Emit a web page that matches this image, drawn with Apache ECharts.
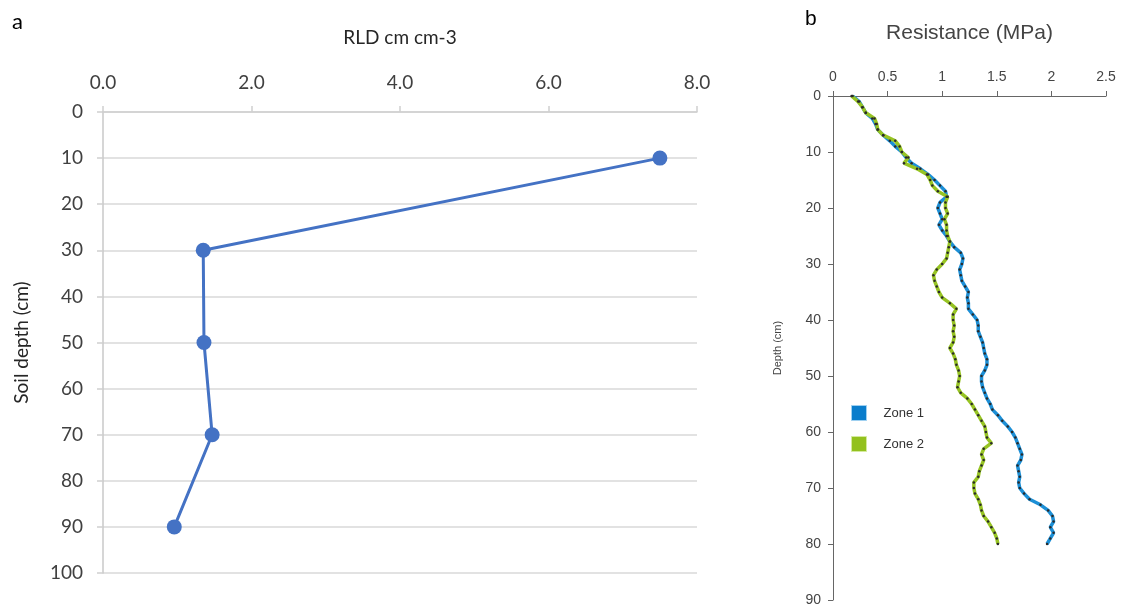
<!DOCTYPE html>
<html>
<head>
<meta charset="utf-8">
<script src="https://cdn.jsdelivr.net/npm/echarts@6/dist/echarts.min.js"></script>
<style>
  html, body { margin: 0; padding: 0; background: #fff; }
  #chart { width: 1123px; height: 607px; }
</style>
</head>
<body>
<div id="chart"></div>
<script>
// Panel a: root length density by soil depth
const rldDepth = [10, 30, 50, 70, 90];
const rldValue = [7.5, 1.35, 1.36, 1.47, 0.96];
const rldTicks = ['0.0', '2.0', '4.0', '6.0', '8.0'];

// Panel b: penetration resistance profiles (1 cm steps)
const resDepth = [];
for (let d = 0; d <= 80; d++) resDepth.push(d);
const zone1 = [
  0.18, 0.24, 0.27, 0.30, 0.36, 0.39, 0.41, 0.46, 0.52, 0.57,
  0.63, 0.67, 0.72, 0.80, 0.87, 0.93, 0.98, 1.03, 1.04, 0.98,
  0.96, 0.98, 1.00, 0.97, 1.00, 1.04, 1.07, 1.11, 1.17, 1.19,
  1.18, 1.16, 1.17, 1.18, 1.21, 1.24, 1.23, 1.24, 1.24, 1.28,
  1.32, 1.33, 1.33, 1.35, 1.37, 1.38, 1.39, 1.41, 1.41, 1.39,
  1.36, 1.36, 1.37, 1.39, 1.41, 1.44, 1.46, 1.51, 1.55, 1.60,
  1.64, 1.67, 1.69, 1.71, 1.73, 1.72, 1.69, 1.70, 1.71, 1.70,
  1.71, 1.75, 1.80, 1.90, 1.97, 2.01, 2.02, 1.99, 2.02, 1.99,
  1.96
];
const zone2 = [
  0.17, 0.23, 0.27, 0.30, 0.38, 0.40, 0.41, 0.46, 0.57, 0.61,
  0.63, 0.69, 0.65, 0.77, 0.86, 0.89, 0.91, 0.96, 1.05, 1.03,
  1.03, 1.05, 1.02, 1.04, 1.04, 1.05, 1.07, 1.06, 1.05, 1.04,
  1.00, 0.95, 0.92, 0.93, 0.95, 0.97, 1.00, 1.07, 1.13, 1.10,
  1.10, 1.11, 1.10, 1.11, 1.10, 1.07, 1.10, 1.12, 1.13, 1.15,
  1.16, 1.15, 1.14, 1.17, 1.23, 1.27, 1.30, 1.33, 1.36, 1.39,
  1.40, 1.41, 1.45, 1.38, 1.36, 1.38, 1.36, 1.34, 1.33, 1.29,
  1.29, 1.30, 1.33, 1.35, 1.36, 1.38, 1.42, 1.45, 1.48, 1.50,
  1.51
];

const fontA = 'Lato, "Open Sans", sans-serif';
const fontB = '"Liberation Sans", Arial, sans-serif';

const chart = echarts.init(document.getElementById('chart'), null, { renderer: 'canvas' });

chart.setOption({
  animation: false,
  backgroundColor: '#ffffff',
  grid: [
    { left: 103, top: 112, width: 594, height: 461 },
    { left: 833, top: 96, width: 273, height: 505 }
  ],
  xAxis: [
    {
      gridIndex: 0, type: 'value', position: 'top', min: 0, max: 8, interval: 2,
      name: 'RLD cm cm-3', nameLocation: 'middle', nameGap: 65,
      nameTextStyle: { fontFamily: fontA, fontSize: 19, color: '#262626' },
      axisLine: { show: true, lineStyle: { color: '#d0d0d0', width: 1.5 } },
      axisTick: { show: true, inside: false, length: 6, lineStyle: { color: '#d0d0d0', width: 1.5 } },
      axisLabel: {
        margin: 20, fontFamily: fontA, fontSize: 19, color: '#404040',
        formatter: v => rldTicks[Math.round(v / 2)]
      },
      splitLine: { show: false }
    },
    {
      gridIndex: 1, type: 'value', position: 'top', min: 0, max: 2.5, interval: 0.5,
      name: 'Resistance (MPa)', nameLocation: 'middle', nameGap: 52,
      nameTextStyle: { fontFamily: fontB, fontSize: 21, color: '#444' },
      axisLine: { show: true, lineStyle: { color: '#666', width: 1 } },
      axisTick: { show: true, inside: false, length: 5, lineStyle: { color: '#666' } },
      axisLabel: { margin: 12, fontFamily: fontB, fontSize: 14, color: '#444',
        formatter: v => String(v) },
      splitLine: { show: false }
    }
  ],
  yAxis: [
    {
      gridIndex: 0, type: 'value', inverse: true, min: 0, max: 100, interval: 10,
      name: 'Soil depth (cm)', nameLocation: 'middle', nameGap: 72, nameRotate: 90,
      nameTextStyle: { fontFamily: fontA, fontSize: 19, color: '#262626' },
      axisLine: { show: true, lineStyle: { color: '#c8c8c8', width: 1.5 } },
      axisTick: { show: true, length: 6, lineStyle: { color: '#d0d0d0', width: 1.5 } },
      axisLabel: { margin: 20, fontFamily: fontA, fontSize: 19, color: '#404040' },
      splitLine: { show: true, lineStyle: { color: '#d9d9d9', width: 1.5 } }
    },
    {
      gridIndex: 1, type: 'value', inverse: true, min: 0, max: 90, interval: 10,
      name: 'Depth (cm)', nameLocation: 'middle', nameGap: 50, nameRotate: 90,
      nameTextStyle: { fontFamily: fontB, fontSize: 11, color: '#444' },
      axisLine: { show: true, lineStyle: { color: '#666', width: 1 } },
      axisTick: { show: true, length: 5, lineStyle: { color: '#666' } },
      axisLabel: { margin: 12, fontFamily: fontB, fontSize: 14, color: '#444' },
      splitLine: { show: false }
    }
  ],
  legend: {
    orient: 'vertical', left: 846, top: 400, itemWidth: 15, itemHeight: 15, itemGap: 15,
    icon: 'rect',
    textStyle: { fontFamily: fontB, fontSize: 13, color: '#333', padding: [0, 0, 0, 12] },
    data: [
      { name: 'Zone 1', itemStyle: { color: '#0a7dcc', borderColor: '#9fd0f0', borderWidth: 1 } },
      { name: 'Zone 2', itemStyle: { color: '#93c11e', borderColor: '#d4ea9e', borderWidth: 1 } }
    ]
  },
  series: [
    {
      type: 'line', xAxisIndex: 0, yAxisIndex: 0,
      data: rldDepth.map((d, i) => [rldValue[i], d]),
      lineStyle: { color: '#4472C4', width: 3 },
      itemStyle: { color: '#4472C4' },
      symbol: 'circle', symbolSize: 15
    },
    {
      name: 'Zone 1', type: 'line', xAxisIndex: 1, yAxisIndex: 1,
      data: resDepth.map((d, i) => [zone1[i], d]),
      lineStyle: { color: '#1c8fd6', width: 3.5 },
      itemStyle: { color: '#2a2a2a' },
      symbol: 'circle', symbolSize: 2.5, showAllSymbol: true
    },
    {
      name: 'Zone 2', type: 'line', xAxisIndex: 1, yAxisIndex: 1,
      data: resDepth.map((d, i) => [zone2[i], d]),
      lineStyle: { color: '#97c423', width: 3.5 },
      itemStyle: { color: '#2a2a2a' },
      symbol: 'circle', symbolSize: 2.5, showAllSymbol: true
    }
  ],
  graphic: [
    { type: 'text', left: 12, top: 11, style: { text: 'a', fontFamily: fontA, fontSize: 22, fill: '#000' } },
    { type: 'text', left: 805, top: 9, style: { text: 'b', fontFamily: fontB, fontSize: 21, fill: '#000' } }
  ]
});
</script>
</body>
</html>
